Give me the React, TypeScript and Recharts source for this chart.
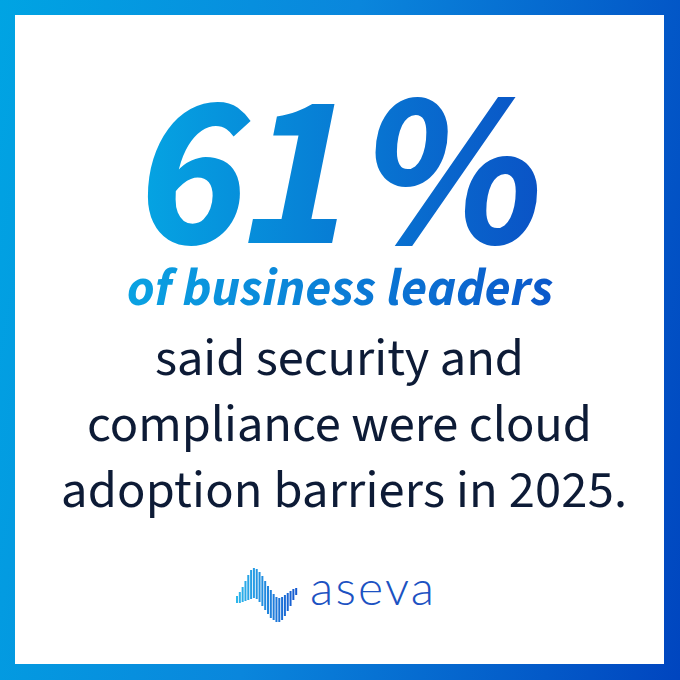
import React from 'react';
import { BarChart, Bar, XAxis, YAxis } from 'recharts';

// headline figure
const headlineValue = 61;
const headlineUnit = '%';
const subtitle = 'of business leaders';
const bodyLines = [
    'said security and',
    'compliance were cloud',
    'adoption barriers in 2025.',
];
const brandName = 'aseva';

// logo wave: each stroke is a [low, high] range
const waveIndex = ['w0', 'w1', 'w2', 'w3', 'w4', 'w5', 'w6', 'w7', 'w8', 'w9', 'w10',
    'w11', 'w12', 'w13', 'w14', 'w15', 'w16', 'w17', 'w18', 'w19', 'w20', 'w21'];
const waveLow = [27, 27, 28, 29, 30, 31, 32, 31, 28, 24, 20, 16, 12, 10, 8, 8, 10, 14, 19, 24, 30, 35];
const waveHigh = [34, 38, 43, 49, 55, 60, 62, 61, 58, 54, 49, 44, 40, 36, 33, 32, 33, 35, 37, 39, 41, 42];

const waveData = waveIndex.map((id, i) => ({ id, range: [waveLow[i], waveHigh[i]] }));

const BODY_FONT = '"Source Sans 3", "Source Sans Pro", Lato, "Noto Sans", sans-serif';
const NAVY = '#0d1b36';

// layout of the three body lines: left edge, width, baseline
const lineBox = [
    { x: 155, w: 369, y: 375 },
    { x: 87, w: 505, y: 441 },
    { x: 61, w: 566, y: 507 },
];

export default function App() {
    return (
        <div style={{ position: 'absolute', left: 0, top: 0, width: 680, height: 680 }}>
            {/* gradient frame */}
            <div style={{
                position: 'absolute', inset: 0,
                background: 'linear-gradient(100deg, #00a4e3 0%, #0a86dc 45%, #0045bf 100%)'
            }} />
            <div style={{ position: 'absolute', left: 15, top: 15, width: 649, height: 649, background: '#ffffff' }} />

            <div style={{ position: 'absolute', left: 0, top: 0 }}>
                <BarChart
                    width={680}
                    height={680}
                    data={waveData}
                    margin={{ top: 560, right: 382, bottom: 50, left: 236 }}
                    barCategoryGap={0}
                >
                    <defs>
                        <linearGradient id="headGrad" gradientUnits="userSpaceOnUse" x1="145" y1="0" x2="536" y2="0">
                            <stop offset="0%" stopColor="#05a3e2" />
                            <stop offset="100%" stopColor="#0a54c6" />
                        </linearGradient>
                        <linearGradient id="subGrad" gradientUnits="userSpaceOnUse" x1="128" y1="0" x2="553" y2="0">
                            <stop offset="0%" stopColor="#0aa2e2" />
                            <stop offset="100%" stopColor="#0b58ca" />
                        </linearGradient>
                        <linearGradient id="waveGrad" gradientUnits="userSpaceOnUse" x1="236" y1="0" x2="298" y2="0">
                            <stop offset="0%" stopColor="#2db8ec" />
                            <stop offset="100%" stopColor="#1556cf" />
                        </linearGradient>
                    </defs>

                    <XAxis dataKey="id" hide />
                    <YAxis domain={[0, 70]} hide />
                    <Bar dataKey="range" fill="url(#waveGrad)" barSize={2} isAnimationActive={false} />

                    {/* headline: per-glyph x positions to open the gap before the % sign */}
                    <text
                        x="137 244 364"
                        y={243}
                        fontFamily={BODY_FONT}
                        fontSize={218}
                        fontWeight={700}
                        fontStyle="italic"
                        fill="url(#headGrad)"
                    >
                        {`${headlineValue}${headlineUnit}`}
                    </text>

                    <text
                        x={127}
                        y={305}
                        textLength={426}
                        fontFamily={BODY_FONT}
                        fontSize={52}
                        fontWeight={700}
                        fontStyle="italic"
                        fill="url(#subGrad)"
                    >
                        {subtitle}
                    </text>

                    {bodyLines.map((line, i) => (
                        <text
                            key={line}
                            x={lineBox[i].x}
                            y={lineBox[i].y}
                            textLength={lineBox[i].w}
                            fontFamily={BODY_FONT}
                            fontSize={52.5}
                            fill={NAVY}
                        >
                            {line}
                        </text>
                    ))}

                    <text
                        x={310}
                        y={605}
                        textLength={124}
                        fontFamily='Lato, "Open Sans", sans-serif'
                        fontSize={48}
                        fontWeight={300}
                        fill="#1c52c2"
                    >
                        {brandName}
                    </text>
                </BarChart>
            </div>
        </div>
    );
}
